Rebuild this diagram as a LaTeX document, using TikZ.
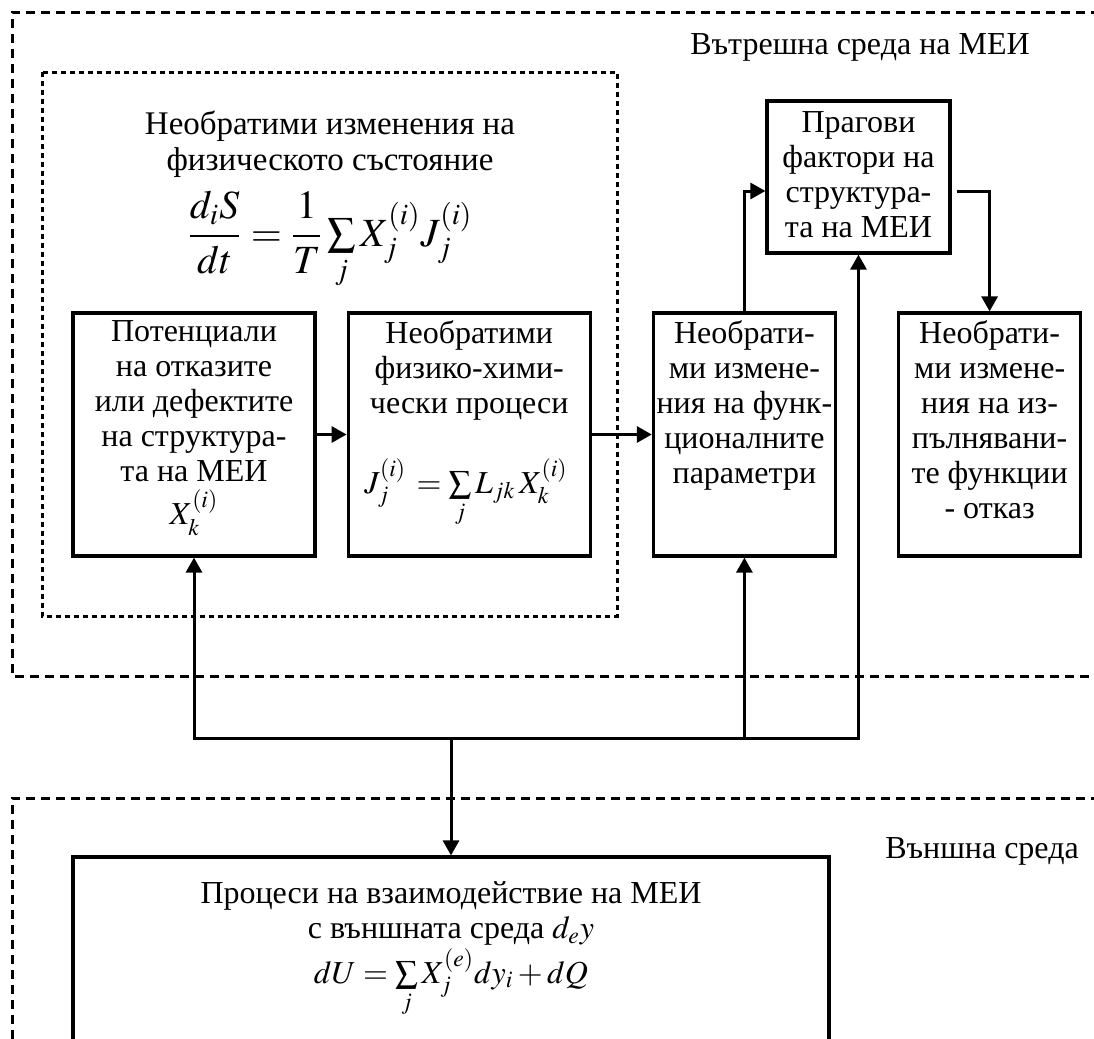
\documentclass[tikz,border=0pt]{standalone}
\usepackage{amsmath}
\usepackage{mathptmx}
\usepackage{fontspec}
\setmainfont{Liberation Serif}
\usetikzlibrary{positioning,arrows.meta}

\begin{document}
\begin{tikzpicture}[x=0.5pt, y=-0.5pt, node distance=30pt,
    blk/.style={rectangle, draw, line width=1.6pt, inner sep=0pt, minimum width=121pt, minimum height=121.5pt},
    txt/.style={align=center, inner sep=0pt, font=\fontsize{16}{17.5}\selectfont},
    conn/.style={line width=1.5pt, -{Triangle[length=7.5pt,width=8pt]}},
    zone/.style={line width=1.5pt, dash pattern=on 4.5pt off 3pt},
    core/.style={line width=1.5pt, dash pattern=on 2.5pt off 2pt}]
    \useasboundingbox (0,0) rectangle (1094,1039);

    \draw[zone] (1100,12) -- (12,12) -- (12,676) -- (1100,676);
    \draw[zone] (1100,798) -- (12,798) -- (12,1045);
    \draw[core] (42,72) rectangle (617,616);

    \node[txt] (inlbl) at (860,47) {Вътрешна среда на МЕИ};
    \node[txt] (outlbl) at (982,851) {Външна среда};
    \node[txt, anchor=north, font=\fontsize{16.5}{18}\selectfont] (coreT) at (330,110) {Необратими изменения на\\физическото състояние};
    \node[txt, anchor=base, font=\fontsize{20}{22}\selectfont] (coreF) at (330,246)
        {$\dfrac{d_iS}{dt}=\dfrac{1}{T}\textstyle\sum\limits_j X_j^{(i)}J_j^{(i)}$};

    \node[blk] (pot) at (194,434.5) {};
    \node[blk, right=15pt of pot] (proc) {};
    \node[blk, minimum width=91pt, right=of proc] (func) {};
    \node[blk, minimum width=91pt, right=of func] (fail) {};
    \node[blk, minimum width=91.5pt, minimum height=76pt] (prag) at (858.5,177) {};
    \node[blk, minimum width=378pt, minimum height=95pt] (ext) at (451,952) {};

    \node[txt, below=4.5pt of pot.north] (potT) {Потенциали\\на отказите\\или дефектите\\на структура-\\та на МЕИ\\[3pt]$X_k^{(i)}$};
    \node[txt, below=4.5pt of proc.north] (procT) {Необратими\\физико-хими-\\чески процеси};
    \node[txt, anchor=base] (procF) at (466,493) {$J_j^{(i)}\,=\sum\limits_j L_{jk}\,X_k^{(i)}$};
    \node[txt, below=4.5pt of func.north] (funcT) {Необрати-\\ми измене-\\ния на функ-\\ционалните\\параметри};
    \node[txt, below=4.5pt of fail.north] (failT) {Необрати-\\ми измене-\\ния на из-\\пълнявани-\\те функции\\- отказ};
    \node[txt, below=6pt of prag.north] (pragT) {Прагови\\фактори на\\структура-\\та на МЕИ};
    \node[txt, anchor=north] (extT) at (451,881) {Процеси на взаимодействие на МЕИ\\с външната среда $d_e y$};
    \node[txt, anchor=base] (extF) at (451,983) {$dU=\sum\limits_j X_j^{(e)}dy_i+dQ$};

    \coordinate (bus) at (451,738);

    \draw[conn] (pot) -- (proc);
    \draw[conn] (proc) -- (func);
    \draw[conn] (func.north) |- ([yshift=-7pt]prag.west);
    \draw[conn] ([xshift=2.5pt,yshift=-7pt]prag.east) -| (fail.north);
    \draw[conn] (bus) -- (ext.north);
    \draw[conn] (bus) -| (pot.south);
    \draw[conn] (bus) -| (func.south);
    \draw[conn] (bus) -| (prag.south);
\end{tikzpicture}
\end{document}
